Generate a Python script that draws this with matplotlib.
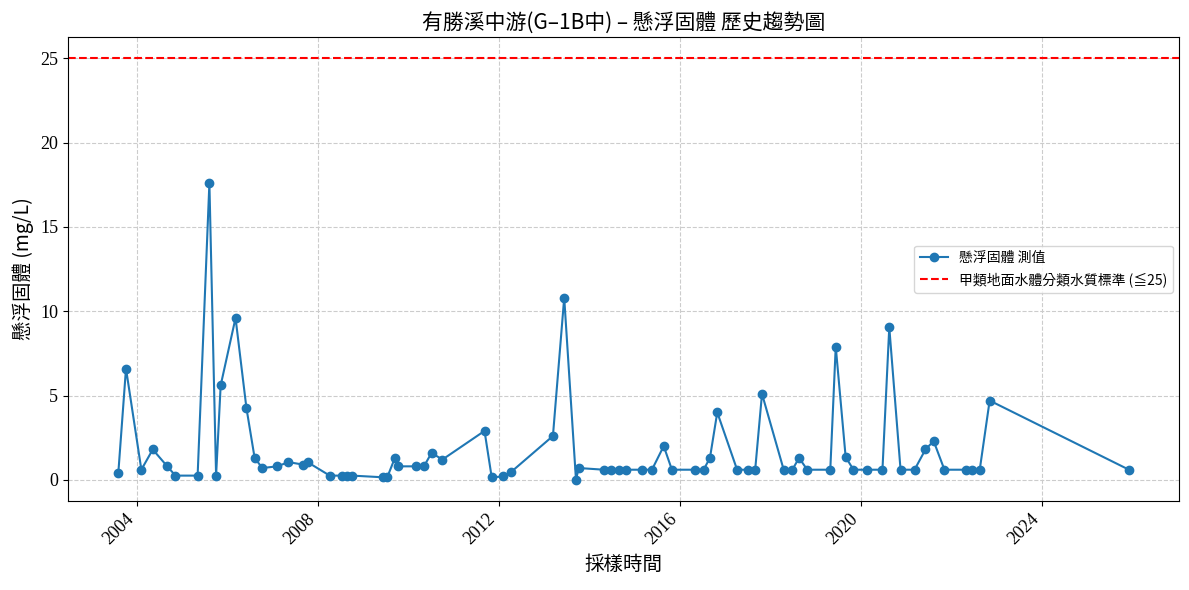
import matplotlib
matplotlib.use('Agg')
import matplotlib.pyplot as plt
import matplotlib.dates as mdates
import pandas as pd

plt.rcParams['font.family'] = ['Noto Sans CJK TC', 'DejaVu Sans']
plt.rcParams['axes.unicode_minus'] = False

## Data
sample_dates = [
    '2003-08-04', '2003-10-05', '2004-02-06', '2004-05-08', '2004-09-02', '2004-11-07',
    '2005-05-05', '2005-08-08', '2005-10-01', '2005-11-07', '2006-03-07', '2006-06-03',
    '2006-08-08', '2006-10-09', '2007-02-06', '2007-05-08', '2007-09-06', '2007-10-09',
    '2008-04-05', '2008-07-09', '2008-08-26', '2008-10-05', '2009-06-10', '2009-07-13',
    '2009-09-13', '2009-10-05', '2010-03-03', '2010-05-05', '2010-07-06', '2010-10-01',
    '2011-09-06', '2011-11-03', '2012-02-06', '2012-04-05', '2013-03-11', '2013-06-10',
    '2013-09-13', '2013-10-05', '2014-04-27', '2014-06-25', '2014-08-26', '2014-10-23',
    '2015-03-03', '2015-05-19', '2015-08-22', '2015-10-27', '2016-04-30', '2016-07-09',
    '2016-08-29', '2016-10-27', '2017-04-05', '2017-07-02', '2017-08-29', '2017-10-23',
    '2018-04-16', '2018-06-25', '2018-08-18', '2018-10-23', '2019-04-27', '2019-06-10',
    '2019-08-29', '2019-10-31', '2020-02-21', '2020-06-21', '2020-08-15', '2020-11-14',
    '2021-03-07', '2021-06-03', '2021-08-08', '2021-11-03', '2022-04-27', '2022-06-17',
    '2022-08-15', '2022-11-03', '2025-12-01',
]
ss_values = [
    0.4, 6.6, 0.6, 1.8, 0.8, 0.25,
    0.25, 17.6, 0.25, 5.6, 9.6, 4.25,
    1.3, 0.7, 0.8, 1.05, 0.9, 1.05,
    0.25, 0.25, 0.25, 0.25, 0.15, 0.15,
    1.3, 0.8, 0.8, 0.8, 1.6, 1.2,
    2.9, 0.15, 0.2, 0.45, 2.6, 10.8,
    0.0, 0.7, 0.6, 0.6, 0.6, 0.6,
    0.6, 0.6, 2.0, 0.6, 0.6, 0.6,
    1.3, 4.0, 0.6, 0.6, 0.6, 5.1,
    0.6, 0.6, 1.3, 0.6, 0.6, 7.9,
    1.35, 0.6, 0.6, 0.6, 9.05, 0.6,
    0.6, 1.8, 2.3, 0.6, 0.6, 0.6,
    0.6, 4.7, 0.6,
]
STANDARD_LIMIT = 25

TITLE = '有勝溪中游(G–1B中) – 懸浮固體 歷史趨勢圖'
X_LABEL = '採樣時間'
Y_LABEL = '懸浮固體 (mg/L)'
SERIES_LABEL = '懸浮固體 測值'
LIMIT_LABEL = '甲類地面水體分類水質標準 (≦25)'

dates = pd.to_datetime(sample_dates)

fig, ax = plt.subplots(figsize=(11.89, 5.90), dpi=100)
ax.plot(dates, ss_values, marker='o', markersize=6, linestyle='-', linewidth=1.5,
        color='#1f77b4', label=SERIES_LABEL)
ax.axhline(STANDARD_LIMIT, color='red', linestyle='--', linewidth=1.5, label=LIMIT_LABEL)

ax.set_title(TITLE, fontsize=15)
ax.set_xlabel(X_LABEL, fontsize=14)
ax.set_ylabel(Y_LABEL, fontsize=14)
ax.grid(True, linestyle='--', color='#cccccc', linewidth=0.8)
ax.legend(loc='center right', fontsize=10)

ax.xaxis.set_major_locator(mdates.YearLocator(4))
ax.xaxis.set_major_formatter(mdates.DateFormatter('%Y'))
for lbl in ax.get_xticklabels():
    lbl.set_rotation(45)
    lbl.set_ha('right')
    lbl.set_family(['Liberation Serif', 'DejaVu Serif'])
    lbl.set_fontsize(13)
for lbl in ax.get_yticklabels():
    lbl.set_family(['Liberation Serif', 'DejaVu Serif'])
    lbl.set_fontsize(13)

fig.subplots_adjust(left=0.057, right=0.992, top=0.937, bottom=0.151)
fig.savefig('out.png', dpi=100)
